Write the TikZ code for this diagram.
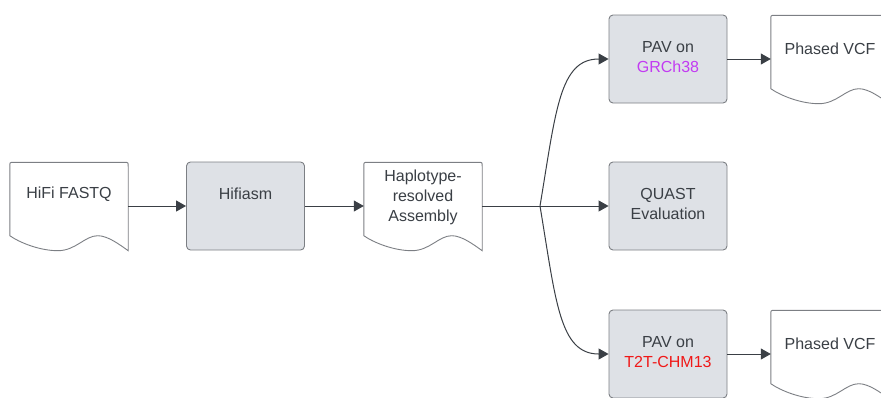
\documentclass[tikz,border=0pt]{standalone}
\usepackage{fontspec}
\setmainfont{Liberation Sans}
\usetikzlibrary{arrows.meta,calc}
\definecolor{boxfill}{HTML}{DEE1E6}
\definecolor{boxline}{HTML}{7C7F84}
\definecolor{txtc}{HTML}{3A3F45}
\definecolor{arr}{HTML}{3A3F45}
\definecolor{grch}{HTML}{C23BF2}
\definecolor{tred}{HTML}{F01818}
\tikzset{
 procbox/.style={draw=boxline, fill=boxfill, rounded corners=4pt, minimum width=118pt, minimum height=88pt, inner sep=0pt, line width=0.9pt},
 docbox/.style={minimum width=118pt, minimum height=88pt, inner sep=0pt},
 docline/.style={draw=boxline, fill=white, line width=0.9pt},
 lbl/.style={text=txtc, font=\fontsize{16}{20}\selectfont, align=center, inner sep=0pt},
 wire/.style={draw=arr, line width=1pt},
 conn/.style={wire, -{Triangle[length=10pt,width=11pt]}},
}
\newcommand\docoutline[1]{%
 \path[docline] ($(#1.south west)+(0,-15)$) -- ($(#1.north west)+(0,4)$)
   .. controls (#1.north west) .. ($(#1.north west)+(4,0)$)
   -- ($(#1.north east)+(-4,0)$) .. controls (#1.north east) .. ($(#1.north east)+(0,4)$)
   -- (#1.south east)
   .. controls ($(#1.south west)+(110,-6)$) and ($(#1.south west)+(98,-15)$) .. ($(#1.south west)+(88,-15)$)
   .. controls ($(#1.south west)+(75,-15)$) and ($(#1.south west)+(66,0)$) .. ($(#1.south west)+(48,0)$)
   .. controls ($(#1.south west)+(30,0)$) and ($(#1.south west)+(10,-8)$) .. ($(#1.south west)+(0,-15)$)
   -- cycle;}
\begin{document}
\begin{tikzpicture}[x=1pt,y=-1pt]
\useasboundingbox (0,0) rectangle (881,397);
\clip (0,0) rectangle (881,397);
% shapes
\node[docbox] (fastq) at (69,206.5) {};
\node[procbox] (hifi) at (245.5,206) {};
\node[docbox] (hap) at (423,206.5) {};
\node[procbox] (pav1) at (668,59) {};
\node[procbox] (quast) at (668,206) {};
\node[procbox] (pav2) at (668,354) {};
\node[docbox] (vcf1) at (830,59.5) {};
\node[docbox] (vcf2) at (830,354.5) {};
\docoutline{fastq}
\docoutline{hap}
\docoutline{vcf1}
\docoutline{vcf2}
% labels
\node[lbl] (tfastq) at ([yshift=12.5pt]fastq.center) {HiFi FASTQ};
\node[lbl] (thifi) at ([yshift=12pt]hifi.center) {Hifiasm};
\node[lbl] (thap) at ([yshift=9.5pt]hap.center) {Haplotype-\\resolved\\Assembly};
\node[lbl] (tpav1) at ([yshift=2pt]pav1.center) {PAV on\\\textcolor{grch}{GRCh38}};
\node[lbl] (tquast) at ([yshift=2pt]quast.center) {QUAST\\Evaluation};
\node[lbl] (tpav2) at ([yshift=1.5pt]pav2.center) {PAV on\\\textcolor{tred}{T2T-CHM13}};
\node[lbl] (tvcf1) at ([yshift=10.5pt]vcf1.center) {Phased VCF};
\node[lbl] (tvcf2) at ([yshift=10.5pt]vcf2.center) {Phased VCF};
% connectors
\coordinate (j) at (540,206);
\draw[conn] (fastq.east |- hifi.west) -- (hifi.west);
\draw[conn] (hifi.east) -- (hifi.east -| hap.west);
\draw[wire] (hifi.east -| hap.east) -- (j);
\draw[conn] (j) -- (quast.west);
\draw[conn] (j) .. controls +(16,-96) and +(-49,0) .. (pav1.west);
\draw[conn] (j) .. controls +(16,96) and +(-49,0) .. (pav2.west);
\draw[conn] (pav1.east) -- (pav1.east -| vcf1.west);
\draw[conn] (pav2.east) -- (pav2.east -| vcf2.west);
\end{tikzpicture}
\end{document}
